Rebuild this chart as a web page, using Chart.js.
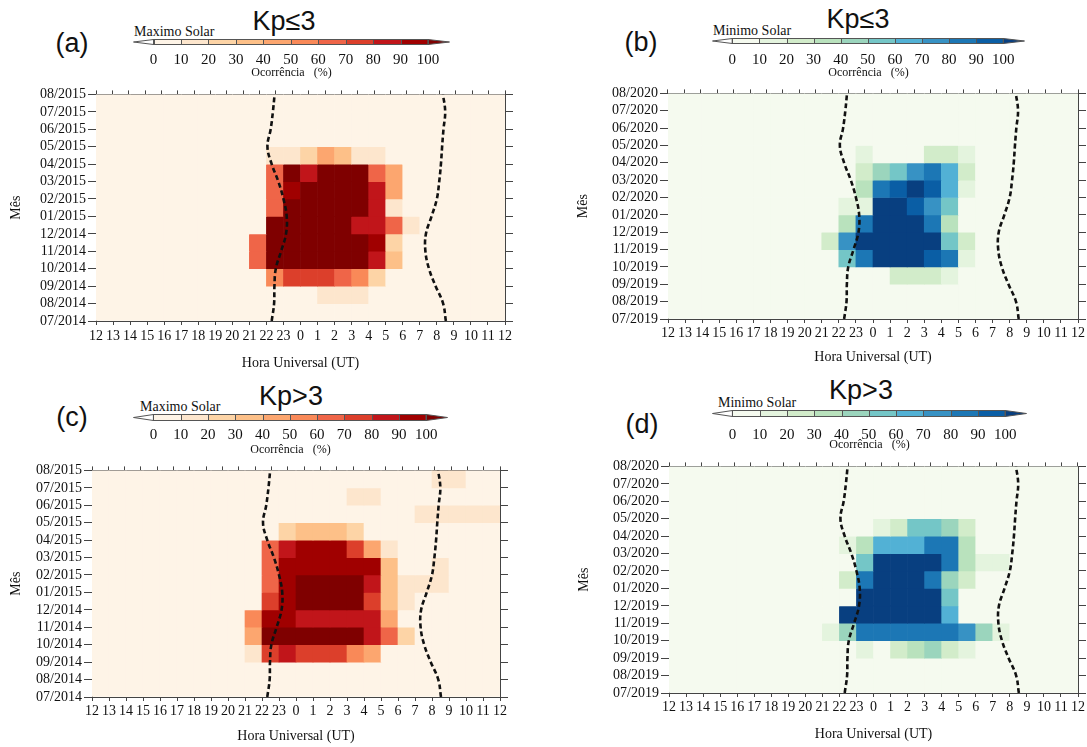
<!DOCTYPE html>
<html lang="pt">
<head>
<meta charset="UTF-8" />
<title>Ocorrência - Maximo e Minimo Solar</title>
<script src="https://cdn.jsdelivr.net/npm/chart.js"></script>
<style>
  body { margin: 0; background: #fff; }
  #page { position: relative; width: 1087px; height: 747px; overflow: hidden; background: #fff; }
  canvas { position: absolute; }
  .big {
    position: absolute;
    font-family: "Liberation Sans", Arial, sans-serif;
    font-size: 27px;
    color: #111;
    line-height: 1;
    white-space: nowrap;
    transform: translate(-50%, -50%);
  }
  .phase {
    position: absolute;
    font-family: "Liberation Serif", "Times New Roman", serif;
    font-size: 14px;
    line-height: 16px;
    color: #111;
    white-space: nowrap;
  }
</style>
</head>
<body>
<div id="page">
  <div class="big" style="left:72px;top:43px">(a)</div>
  <div class="big" style="left:284px;top:21px">Kp≤3</div>
  <div class="phase" style="left:134px;top:24px">Maximo Solar</div>
  <canvas id="cbA" width="317" height="42" style="left:133px;top:39px"></canvas>
  <canvas id="panelA" width="530" height="290" style="left:0px;top:84px"></canvas>

  <div class="big" style="left:641px;top:42px">(b)</div>
  <div class="big" style="left:858px;top:19px">Kp≤3</div>
  <div class="phase" style="left:713px;top:23px">Minimo Solar</div>
  <canvas id="cbB" width="313" height="43" style="left:712px;top:38px"></canvas>
  <canvas id="panelB" width="542" height="290" style="left:545px;top:83px"></canvas>

  <div class="big" style="left:72px;top:417px">(c)</div>
  <div class="big" style="left:291px;top:396px">Kp&gt;3</div>
  <div class="phase" style="left:140px;top:399px">Maximo Solar</div>
  <canvas id="cbC" width="315" height="44" style="left:133px;top:414px"></canvas>
  <canvas id="panelC" width="525" height="287" style="left:0px;top:460px"></canvas>

  <div class="big" style="left:642px;top:424px">(d)</div>
  <div class="big" style="left:861px;top:390px">Kp&gt;3</div>
  <div class="phase" style="left:718px;top:395px">Minimo Solar</div>
  <canvas id="cbD" width="315" height="43" style="left:712px;top:410px"></canvas>
  <canvas id="panelD" width="542" height="291" style="left:545px;top:456px"></canvas>
</div>

<script>
// x axis: hours counted from 12 UT, labelled in UT
const hourLabels = ['12','13','14','15','16','17','18','19','20','21','22','23',
                    '0','1','2','3','4','5','6','7','8','9','10','11','12'];
const monthsMax = ['07/2014','08/2014','09/2014','10/2014','11/2014','12/2014','01/2015',
                   '02/2015','03/2015','04/2015','05/2015','06/2015','07/2015','08/2015'];
const monthsMin = ['07/2019','08/2019','09/2019','10/2019','11/2019','12/2019','01/2020',
                   '02/2020','03/2020','04/2020','05/2020','06/2020','07/2020','08/2020'];

const levels = [0, 10, 20, 30, 40, 50, 60, 70, 80, 90, 100];
const orangeColors = ['#fef4e7','#fde6cd','#fdd4a6','#fdc088','#fca66f','#f98958',
                      '#ef6548','#dc3f2b','#c1151a','#a00000','#7f0000'];
const blueColors = ['#f5faef','#e4f4de','#d2ecca','#b9e2bd','#9bd5bd','#74c6c7',
                    '#52b1d5','#3792c4','#1c77b5','#0a5ea5','#083f80'];

// terminator lines (dashed): position in month rows, hours after 12 UT
const termMonth = [0, 1, 2, 3, 4, 5, 6, 7, 8, 9, 10, 11, 12, 13];
const duskX = [10.31, 10.45, 10.47, 10.55, 10.86, 11.15, 11.19, 11.0, 10.70, 10.31, 10.06, 10.25, 10.38, 10.48];
const dawnX = [20.53, 20.37, 19.93, 19.54, 19.33, 19.36, 19.69, 20.0, 20.14, 20.24, 20.31, 20.39, 20.49, 20.36];

// occurrence (%) : one row per month (bottom row first), one column per hour (12 UT ... 11 UT)
const occA = [
  [0,0,0,0,0,0,0,0,0,0,0,0,0,0,0,0,0,0,0,0,0,0,0,0],
  [0,0,0,0,0,0,0,0,0,0,0,0,0,15,15,15,0,0,0,0,0,0,0,0],
  [0,0,0,0,0,0,0,0,0,0,55,75,75,75,65,55,25,0,0,0,0,0,0,0],
  [0,0,0,0,0,0,0,0,0,65,100,100,100,100,100,100,85,35,0,0,0,0,0,0],
  [0,0,0,0,0,0,0,0,0,65,100,100,100,100,100,100,95,25,0,0,0,0,0,0],
  [0,0,0,0,0,0,0,0,0,0,100,100,100,100,100,85,85,65,15,0,0,0,0,0],
  [0,0,0,0,0,0,0,0,0,0,65,100,100,100,100,100,85,15,0,0,0,0,0,0],
  [0,0,0,0,0,0,0,0,0,0,65,95,100,100,100,100,85,45,0,0,0,0,0,0],
  [0,0,0,0,0,0,0,0,0,0,65,100,85,100,100,100,65,45,0,0,0,0,0,0],
  [0,0,0,0,0,0,0,0,0,0,15,15,25,45,35,15,15,0,0,0,0,0,0,0],
  [0,0,0,0,0,0,0,0,0,0,0,0,0,0,0,0,0,0,0,0,0,0,0,0],
  [0,0,0,0,0,0,0,0,0,0,0,0,0,0,0,0,0,0,0,0,0,0,0,0],
  [0,0,0,0,0,0,0,0,0,0,0,0,0,0,0,0,0,0,0,0,0,0,0,0]
];
const occB = [
  [0,0,0,0,0,0,0,0,0,0,0,0,0,0,0,0,0,0,0,0,0,0,0,0],
  [0,0,0,0,0,0,0,0,0,0,0,0,0,0,0,0,0,0,0,0,0,0,0,0],
  [0,0,0,0,0,0,0,0,0,0,0,0,0,25,25,25,15,0,0,0,0,0,0,0],
  [0,0,0,0,0,0,0,0,0,0,55,85,100,100,100,95,85,15,0,0,0,0,0,0],
  [0,0,0,0,0,0,0,0,0,25,75,100,100,100,100,100,55,25,0,0,0,0,0,0],
  [0,0,0,0,0,0,0,0,0,0,35,85,100,100,100,85,35,0,0,0,0,0,0,0],
  [0,0,0,0,0,0,0,0,0,0,15,15,100,100,95,75,55,0,0,0,0,0,0,0],
  [0,0,0,0,0,0,0,0,0,0,0,35,85,95,100,95,65,15,0,0,0,0,0,0],
  [0,0,0,0,0,0,0,0,0,0,0,25,45,55,75,85,65,25,0,0,0,0,0,0],
  [0,0,0,0,0,0,0,0,0,0,0,15,0,0,0,25,25,15,0,0,0,0,0,0],
  [0,0,0,0,0,0,0,0,0,0,0,0,0,0,0,0,0,0,0,0,0,0,0,0],
  [0,0,0,0,0,0,0,0,0,0,0,0,0,0,0,0,0,0,0,0,0,0,0,0],
  [0,0,0,0,0,0,0,0,0,0,0,0,0,0,0,0,0,0,0,0,0,0,0,0]
];
const occC = [
  [0,0,0,0,0,0,0,0,0,0,0,0,0,0,0,0,0,0,0,0,0,0,0,0],
  [0,0,0,0,0,0,0,0,0,0,0,0,0,0,0,0,0,0,0,0,0,0,0,0],
  [0,0,0,0,0,0,0,0,0,15,75,85,75,75,75,55,45,0,0,0,0,0,0,0],
  [0,0,0,0,0,0,0,0,0,45,100,100,100,100,100,100,85,65,25,0,0,0,0,0],
  [0,0,0,0,0,0,0,0,0,55,95,95,85,85,85,85,85,45,0,0,0,0,0,0],
  [0,0,0,0,0,0,0,0,0,0,75,95,100,100,100,100,75,35,15,0,0,0,0,0],
  [0,0,0,0,0,0,0,0,0,0,65,95,100,100,100,100,85,35,15,15,15,0,0,0],
  [0,0,0,0,0,0,0,0,0,0,65,95,95,95,95,95,95,35,0,0,15,0,0,0],
  [0,0,0,0,0,0,0,0,0,0,65,85,95,95,95,75,45,15,0,0,0,0,0,0],
  [0,0,0,0,0,0,0,0,0,0,0,25,35,35,35,25,0,0,0,0,0,0,0,0],
  [0,0,0,0,0,0,0,0,0,0,0,0,0,0,0,0,0,0,0,15,15,15,15,15],
  [0,0,0,0,0,0,0,0,0,0,0,0,0,0,0,15,15,0,0,0,0,0,0,0],
  [0,0,0,0,0,0,0,0,0,0,0,0,0,0,0,0,0,0,0,0,15,15,0,0]
];
const occD = [
  [0,0,0,0,0,0,0,0,0,0,0,0,0,0,0,0,0,0,0,0,0,0,0,0],
  [0,0,0,0,0,0,0,0,0,0,0,0,0,0,0,0,0,0,0,0,0,0,0,0],
  [0,0,0,0,0,0,0,0,0,0,0,15,0,25,35,45,25,15,0,0,0,0,0,0],
  [0,0,0,0,0,0,0,0,0,15,45,85,85,85,85,85,85,75,45,15,0,0,0,0],
  [0,0,0,0,0,0,0,0,0,0,100,100,100,100,100,100,65,0,0,0,0,0,0,0],
  [0,0,0,0,0,0,0,0,0,0,0,100,100,100,100,100,55,0,0,0,0,0,0,0],
  [0,0,0,0,0,0,0,0,0,0,25,85,100,100,100,85,45,25,0,0,0,0,0,0],
  [0,0,0,0,0,0,0,0,0,0,0,55,100,100,100,100,85,35,15,15,0,0,0,0],
  [0,0,0,0,0,0,0,0,0,0,15,35,65,65,65,85,85,35,0,0,0,0,0,0],
  [0,0,0,0,0,0,0,0,0,0,0,0,15,25,55,55,45,25,0,0,0,0,0,0],
  [0,0,0,0,0,0,0,0,0,0,0,0,0,0,0,0,0,0,0,0,0,0,0,0],
  [0,0,0,0,0,0,0,0,0,0,0,0,0,0,0,0,0,0,0,0,0,0,0,0],
  [0,0,0,0,0,0,0,0,0,0,0,0,0,0,0,0,0,0,0,0,0,0,0,0]
];

const serif = '"Liberation Serif", "Times New Roman", serif';
const axisColor = '#444';
const textColor = '#111';

function colorFor(v, palette) {
  let i = Math.floor(v / 10);
  if (i > 10) i = 10;
  return palette[i];
}

function makePanel(id, occ, months, palette, fit) {
  const cells = [];
  const colors = [];
  occ.forEach((row, r) => {
    row.forEach((v, c) => {
      cells.push({ x: c + 0.5, y: [r, r + 1] });
      colors.push(colorFor(v, palette));
    });
  });
  const dashed = (xs) => ({
    type: 'line',
    data: termMonth.map((m, i) => ({ x: xs[i], y: m })),
    borderColor: '#111',
    borderWidth: 2.6,
    borderDash: [5, 3],
    pointRadius: 0,
    tension: 0.4,
    fill: false,
    order: 1
  });
  const hiddenTicks = { stepSize: 1, display: false };

  return new Chart(document.getElementById(id), {
    type: 'bar',
    data: {
      datasets: [
        dashed(duskX),
        dashed(dawnX),
        {
          data: cells,
          backgroundColor: colors,
          borderWidth: 0,
          grouped: false,
          categoryPercentage: 1,
          barPercentage: 1,
          order: 2
        }
      ]
    },
    options: {
      responsive: false,
      animation: false,
      layout: { padding: 0 },
      plugins: { legend: { display: false }, tooltip: { enabled: false } },
      scales: {
        x: {
          type: 'linear', min: 0, max: 24, offset: false,
          afterFit: (s) => { s.height = fit.bottom; },
          ticks: {
            stepSize: 1, autoSkip: false, maxRotation: 0, minRotation: 0, padding: fit.xPad,
            color: textColor, font: { family: serif, size: 14 },
            callback: (v) => hourLabels[Math.round(v)]
          },
          grid: { drawOnChartArea: false, offset: false, tickLength: 4, color: axisColor },
          border: { color: axisColor, width: 1 },
          title: {
            display: true, text: 'Hora Universal (UT)', color: textColor,
            font: { family: serif, size: 14 }, padding: { top: 0, bottom: fit.xTitle }
          }
        },
        x2: {
          type: 'linear', position: 'top', min: 0, max: 24,
          afterFit: (s) => { s.height = fit.top; },
          ticks: hiddenTicks,
          grid: { drawOnChartArea: false, tickLength: 4, color: axisColor },
          border: { color: axisColor, width: 1 }
        },
        y: {
          type: 'linear', min: 0, max: 13,
          afterFit: (s) => { s.width = fit.left; },
          ticks: {
            stepSize: 1, autoSkip: false, padding: 2,
            color: textColor, font: { family: serif, size: 14 },
            callback: (v) => months[Math.round(v)]
          },
          grid: { drawOnChartArea: false, tickLength: 8, color: axisColor },
          border: { color: axisColor, width: 1 },
          title: {
            display: true, text: 'Mês', color: textColor,
            font: { family: serif, size: 14 }, padding: { top: fit.yTitle, bottom: 0 }
          }
        },
        y2: {
          type: 'linear', position: 'right', min: 0, max: 13,
          afterFit: (s) => { s.width = fit.right; },
          ticks: hiddenTicks,
          grid: { drawOnChartArea: false, tickLength: 8, color: axisColor },
          border: { color: axisColor, width: 1 }
        }
      }
    }
  });
}

function makeColorbar(id, palette, fit) {
  const ends = {
    id: 'cbEnds',
    afterDatasetsDraw(chart) {
      const { ctx, chartArea: a, scales: { x } } = chart;
      const p0 = x.getPixelForValue(levels[0]);
      const p1 = x.getPixelForValue(levels[levels.length - 1]);
      const mid = (a.top + a.bottom) / 2;
      ctx.save();
      ctx.lineWidth = 1;
      ctx.strokeStyle = '#555';
      ctx.beginPath();
      ctx.moveTo(a.left + 0.5, mid);
      ctx.lineTo(p0, a.top + 0.5);
      ctx.lineTo(p0, a.bottom - 0.5);
      ctx.closePath();
      ctx.fillStyle = '#fff';
      ctx.fill();
      ctx.stroke();
      ctx.beginPath();
      ctx.moveTo(p1, a.top + 0.5);
      ctx.lineTo(a.right - 0.5, mid);
      ctx.lineTo(p1, a.bottom - 0.5);
      ctx.closePath();
      ctx.fillStyle = palette[10];
      ctx.fill();
      ctx.stroke();
      levels.forEach((v) => {
        const px = Math.round(x.getPixelForValue(v)) + 0.5;
        ctx.beginPath();
        ctx.moveTo(px, a.top);
        ctx.lineTo(px, a.bottom);
        ctx.stroke();
      });
      ctx.strokeRect(p0, a.top + 0.5, p1 - p0, a.bottom - a.top - 1);
      ctx.restore();
    }
  };
  return new Chart(document.getElementById(id), {
    type: 'bar',
    data: {
      labels: [''],
      datasets: levels.slice(0, -1).map((lo, i) => ({
        data: [[lo, levels[i + 1]]],
        backgroundColor: palette[i],
        borderWidth: 0,
        grouped: false,
        categoryPercentage: 1,
        barPercentage: 1
      }))
    },
    options: {
      indexAxis: 'y',
      responsive: false,
      animation: false,
      layout: { padding: 0 },
      plugins: { legend: { display: false }, tooltip: { enabled: false } },
      scales: {
        x: {
          type: 'linear', min: -7.5, max: 108,
          afterBuildTicks: (s) => { s.ticks = levels.map((v) => ({ value: v })); },
          afterFit: (s) => { s.height = fit.axis; },
          ticks: { padding: fit.pad, color: textColor, font: { family: serif, size: 15 } },
          grid: { display: false, drawTicks: false },
          border: { display: false },
          title: {
            display: true, text: 'Ocorrência   (%)', color: textColor,
            font: { family: serif, size: 12 }, padding: { top: 0, bottom: fit.tb }
          }
        },
        y: { display: false }
      }
    },
    plugins: [ends]
  });
}

makeColorbar('cbA', orangeColors, { axis: 36, pad: 6, tb: 1 });
makeColorbar('cbB', blueColors, { axis: 37, pad: 7, tb: 1 });
makeColorbar('cbC', orangeColors, { axis: 37, pad: 5, tb: 1 });
makeColorbar('cbD', blueColors, { axis: 36, pad: 9, tb: 1 });

makePanel('panelA', occA, monthsMax, orangeColors,
  { left: 96, right: 25, top: 10, bottom: 53, xPad: 3, xTitle: 2, yTitle: 8 });
makePanel('panelB', occB, monthsMin, blueColors,
  { left: 123, right: 9, top: 10, bottom: 54, xPad: 2, xTitle: 7, yTitle: 30 });
makePanel('panelC', occC, monthsMax, orangeColors,
  { left: 92, right: 25, top: 10, bottom: 50, xPad: 2, xTitle: 2, yTitle: 8 });
makePanel('panelD', occD, monthsMin, blueColors,
  { left: 124, right: 9, top: 10, bottom: 54, xPad: 2, xTitle: 4, yTitle: 31 });
</script>
</body>
</html>
